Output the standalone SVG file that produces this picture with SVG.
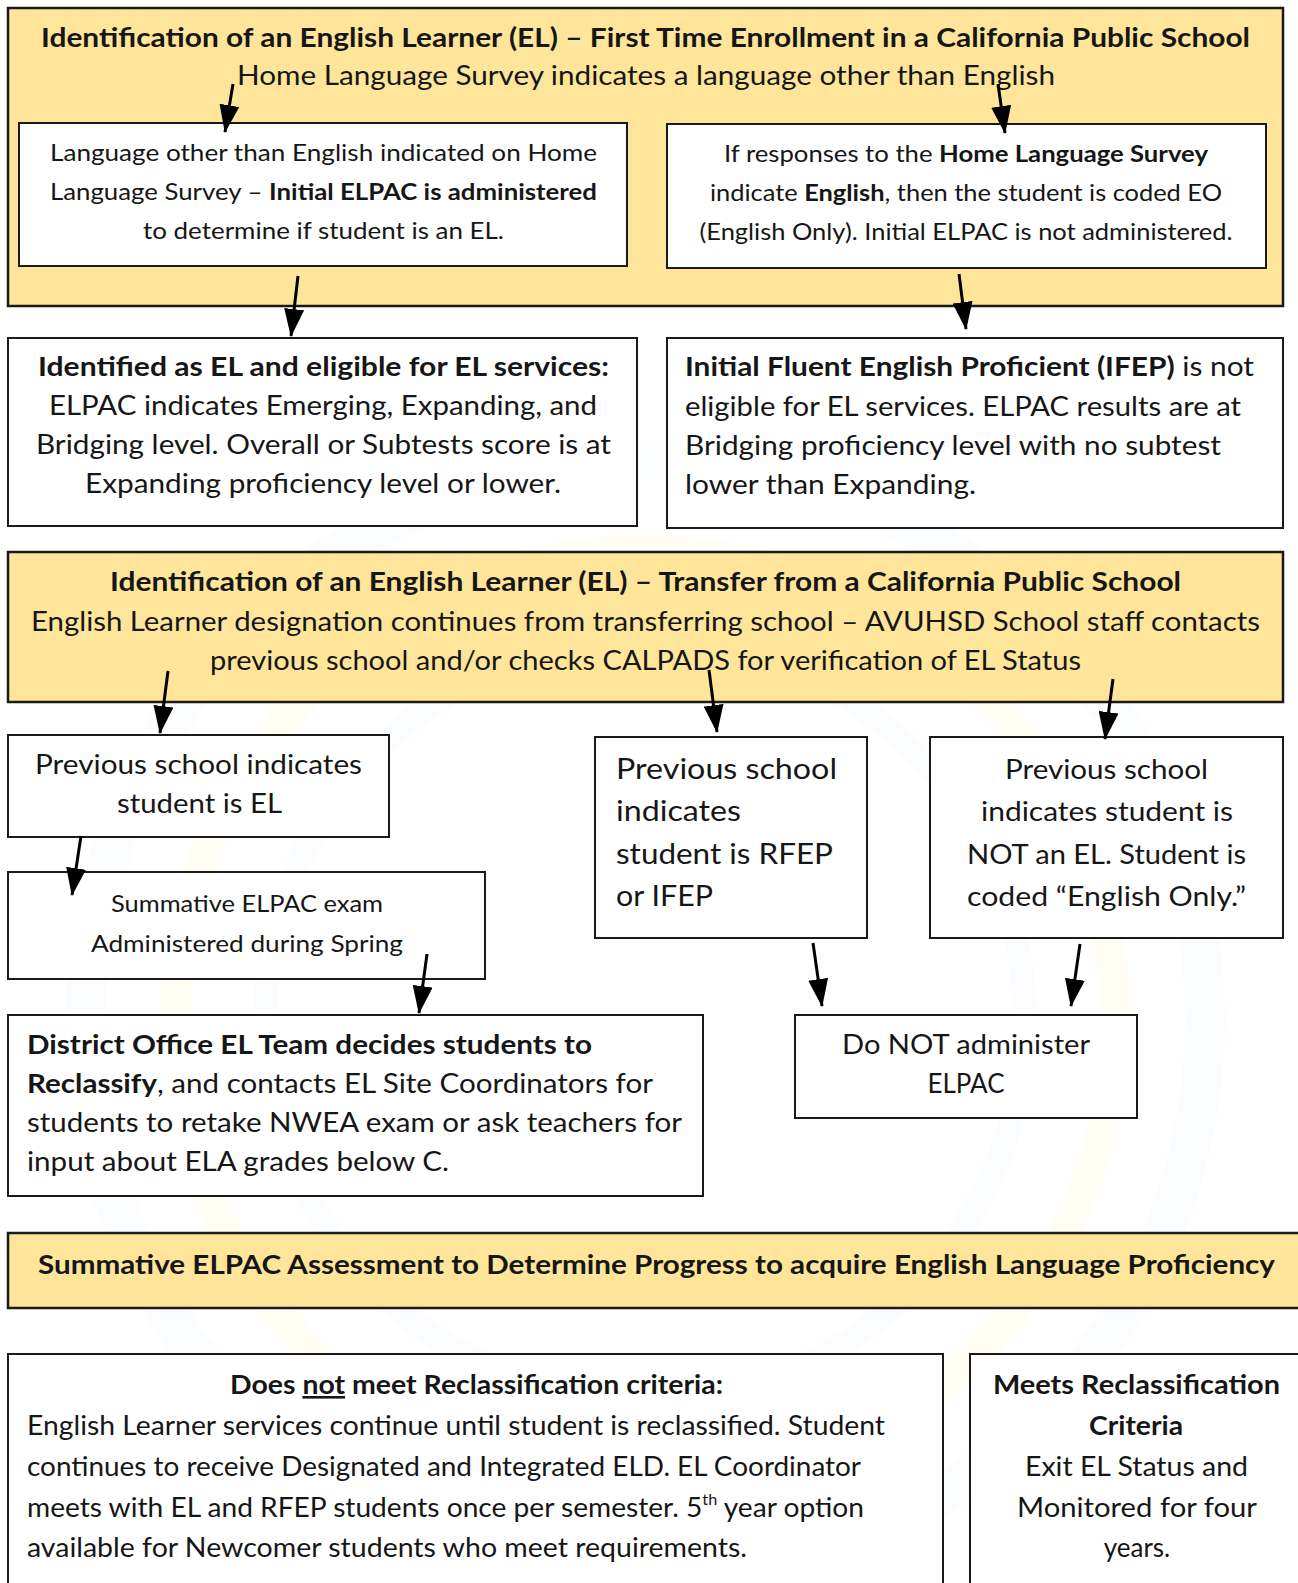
<svg xmlns="http://www.w3.org/2000/svg" width="1298" height="1583" viewBox="0 0 1298 1583">
<style>
.box{fill:#ffffff;stroke:#1a1a1a;stroke-width:2}
.ybox{fill:#ffe599;stroke:#1a1a1a;stroke-width:2.5}
text{font-family:Lato,"Open Sans","Liberation Sans",sans-serif;fill:#161616}
.b{font-weight:bold}
.c{text-anchor:middle}
.conn line{stroke:#000;stroke-width:3;marker-end:url(#ah)}
.wm{fill:none}
</style>
<defs>
<marker id="ah" viewBox="0 0 28 20" refX="27" refY="10" markerWidth="28" markerHeight="20" markerUnits="userSpaceOnUse" orient="auto">
<path d="M0,0 L28,10 L0,20 z" fill="#000"/>
</marker>
</defs>
<rect width="1298" height="1583" fill="#ffffff"/>

<g id="watermark">
<circle class="wm" cx="645" cy="1020" r="560" stroke="#fbfcfe" stroke-width="40"/>
<circle class="wm" cx="645" cy="1020" r="470" stroke="#fffdf4" stroke-width="30"/>
<circle class="wm" cx="645" cy="1020" r="380" stroke="#fbfcfe" stroke-width="24"/>
</g>

<g id="enroll-header">
<rect class="ybox" x="8" y="8" width="1275" height="298"/>
<text class="b c" x="645.5" y="47" font-size="27" textLength="1209" lengthAdjust="spacingAndGlyphs">Identification of an English Learner (EL) – First Time Enrollment in a California Public School</text>
<text class="c" x="646" y="85" font-size="26" textLength="818" lengthAdjust="spacingAndGlyphs">Home Language Survey indicates a language other than English</text>
</g>

<g id="other-language">
<rect class="box" x="19" y="123" width="608" height="143"/>
<text class="c" x="323.5" y="161" font-size="23" textLength="547" lengthAdjust="spacingAndGlyphs">Language other than English indicated on Home</text>
<text class="c" x="323.5" y="200" font-size="23" textLength="547" lengthAdjust="spacingAndGlyphs">Language Survey – <tspan class="b">Initial ELPAC is administered</tspan></text>
<text class="c" x="323.5" y="239" font-size="23" textLength="361" lengthAdjust="spacingAndGlyphs">to determine if student is an EL.</text>
</g>

<g id="english-only">
<rect class="box" x="667" y="124" width="599" height="144"/>
<text class="c" x="966" y="162" font-size="23" textLength="484" lengthAdjust="spacingAndGlyphs">If responses to the <tspan class="b">Home Language Survey</tspan></text>
<text class="c" x="966" y="201" font-size="23" textLength="512" lengthAdjust="spacingAndGlyphs">indicate <tspan class="b">English</tspan>, then the student is coded EO</text>
<text class="c" x="966" y="240" font-size="23" textLength="533" lengthAdjust="spacingAndGlyphs">(English Only). Initial ELPAC is not administered.</text>
</g>

<g id="identified-el">
<rect class="box" x="8" y="338" width="629" height="188"/>
<text class="b c" x="323.5" y="376" font-size="26" textLength="571" lengthAdjust="spacingAndGlyphs">Identified as EL and eligible for EL services:</text>
<text class="c" x="323" y="415" font-size="26" textLength="548" lengthAdjust="spacingAndGlyphs">ELPAC indicates Emerging, Expanding, and</text>
<text class="c" x="323.5" y="454" font-size="26" textLength="575" lengthAdjust="spacingAndGlyphs">Bridging level. Overall or Subtests score is at</text>
<text class="c" x="323" y="493" font-size="26" textLength="476" lengthAdjust="spacingAndGlyphs">Expanding proficiency level or lower.</text>
</g>

<g id="ifep">
<rect class="box" x="667" y="338" width="616" height="190"/>
<text x="685" y="376" font-size="26" textLength="569" lengthAdjust="spacingAndGlyphs"><tspan class="b">Initial Fluent English Proficient (IFEP)</tspan> is not</text>
<text x="685" y="416" font-size="26" textLength="556" lengthAdjust="spacingAndGlyphs">eligible for EL services. ELPAC results are at</text>
<text x="685" y="455" font-size="26" textLength="536" lengthAdjust="spacingAndGlyphs">Bridging proficiency level with no subtest</text>
<text x="685" y="494" font-size="26" textLength="291" lengthAdjust="spacingAndGlyphs">lower than Expanding.</text>
</g>

<g id="transfer-header">
<rect class="ybox" x="8" y="552" width="1275" height="150"/>
<text class="b c" x="645.5" y="591" font-size="26" textLength="1071" lengthAdjust="spacingAndGlyphs">Identification of an English Learner (EL) – Transfer from a California Public School</text>
<text class="c" x="645.5" y="631" font-size="26" textLength="1229" lengthAdjust="spacingAndGlyphs">English Learner designation continues from transferring school – AVUHSD School staff contacts</text>
<text class="c" x="645.5" y="670" font-size="26" textLength="871" lengthAdjust="spacingAndGlyphs">previous school and/or checks CALPADS for verification of EL Status</text>
</g>

<g id="prev-el">
<rect class="box" x="8" y="735" width="381" height="102"/>
<text class="c" x="198.5" y="774" font-size="26" textLength="327" lengthAdjust="spacingAndGlyphs">Previous school indicates</text>
<text class="c" x="199.5" y="813" font-size="26" textLength="165" lengthAdjust="spacingAndGlyphs">student is EL</text>
</g>

<g id="prev-rfep">
<rect class="box" x="595" y="737" width="272" height="201"/>
<text x="616" y="779" font-size="28" textLength="221" lengthAdjust="spacingAndGlyphs">Previous school</text>
<text x="616" y="821" font-size="28" textLength="125" lengthAdjust="spacingAndGlyphs">indicates</text>
<text x="616" y="864" font-size="28" textLength="217" lengthAdjust="spacingAndGlyphs">student is RFEP</text>
<text x="616" y="906" font-size="28" textLength="97" lengthAdjust="spacingAndGlyphs">or IFEP</text>
</g>

<g id="prev-not-el">
<rect class="box" x="930" y="737" width="353" height="201"/>
<text class="c" x="1106.5" y="779" font-size="27" textLength="203" lengthAdjust="spacingAndGlyphs">Previous school</text>
<text class="c" x="1107" y="821" font-size="27" textLength="252" lengthAdjust="spacingAndGlyphs">indicates student is</text>
<text class="c" x="1106.5" y="864" font-size="27" textLength="279" lengthAdjust="spacingAndGlyphs">NOT an EL. Student is</text>
<text class="c" x="1106.5" y="906" font-size="27" textLength="279" lengthAdjust="spacingAndGlyphs">coded “English Only.”</text>
</g>

<g id="summative-spring">
<rect class="box" x="8" y="872" width="477" height="107"/>
<text class="c" x="247" y="912" font-size="24" textLength="272" lengthAdjust="spacingAndGlyphs">Summative ELPAC exam</text>
<text class="c" x="247" y="952" font-size="24" textLength="312" lengthAdjust="spacingAndGlyphs">Administered during Spring</text>
</g>

<g id="district-office">
<rect class="box" x="8" y="1015" width="695" height="181"/>
<text class="b" x="27" y="1054" font-size="26" textLength="565" lengthAdjust="spacingAndGlyphs">District Office EL Team decides students to</text>
<text x="27" y="1093" font-size="26" textLength="626" lengthAdjust="spacingAndGlyphs"><tspan class="b">Reclassify</tspan>, and contacts EL Site Coordinators for</text>
<text x="27" y="1132" font-size="26" textLength="655" lengthAdjust="spacingAndGlyphs">students to retake NWEA exam or ask teachers for</text>
<text x="27" y="1171" font-size="26" textLength="422" lengthAdjust="spacingAndGlyphs">input about ELA grades below C.</text>
</g>

<g id="do-not-administer">
<rect class="box" x="795" y="1015" width="342" height="103"/>
<text class="c" x="966" y="1054" font-size="27" textLength="248" lengthAdjust="spacingAndGlyphs">Do NOT administer</text>
<text class="c" x="966" y="1093" font-size="27" textLength="77" lengthAdjust="spacingAndGlyphs">ELPAC</text>
</g>

<g id="summative-header">
<rect class="ybox" x="8" y="1233" width="1300" height="75"/>
<text class="b c" x="656.5" y="1274" font-size="27" textLength="1237" lengthAdjust="spacingAndGlyphs">Summative ELPAC Assessment to Determine Progress to acquire English Language Proficiency</text>
</g>

<g id="not-meet">
<rect class="box" x="8" y="1354" width="935" height="250"/>
<text class="b c" x="476.5" y="1394" font-size="26" textLength="493" lengthAdjust="spacingAndGlyphs">Does <tspan text-decoration="underline">not</tspan> meet Reclassification criteria:</text>
<text x="27" y="1435" font-size="26" textLength="858" lengthAdjust="spacingAndGlyphs">English Learner services continue until student is reclassified. Student</text>
<text x="27" y="1476" font-size="26" textLength="834" lengthAdjust="spacingAndGlyphs">continues to receive Designated and Integrated ELD. EL Coordinator</text>
<text x="27" y="1517" font-size="26" textLength="837" lengthAdjust="spacingAndGlyphs">meets with EL and RFEP students once per semester. 5<tspan font-size="15" dy="-12">th</tspan><tspan dy="12"> year option</tspan></text>
<text x="27" y="1557" font-size="26" textLength="720" lengthAdjust="spacingAndGlyphs">available for Newcomer students who meet requirements.</text>
</g>

<g id="meets">
<rect class="box" x="970" y="1354" width="340" height="250"/>
<text class="b c" x="1136.5" y="1394" font-size="26" textLength="287" lengthAdjust="spacingAndGlyphs">Meets Reclassification</text>
<text class="b c" x="1136" y="1435" font-size="26" textLength="94" lengthAdjust="spacingAndGlyphs">Criteria</text>
<text class="c" x="1136.5" y="1476" font-size="26" textLength="223" lengthAdjust="spacingAndGlyphs">Exit EL Status and</text>
<text class="c" x="1137" y="1517" font-size="26" textLength="240" lengthAdjust="spacingAndGlyphs">Monitored for four</text>
<text class="c" x="1137" y="1557" font-size="26">years.</text>
</g>

<g id="connectors" class="conn">
<line x1="233" y1="84" x2="225" y2="132"/>
<line x1="998" y1="84" x2="1005" y2="133"/>
<line x1="298" y1="276" x2="291" y2="336"/>
<line x1="959" y1="274" x2="966" y2="329"/>
<line x1="168" y1="671" x2="160" y2="733"/>
<line x1="709" y1="670" x2="717" y2="732"/>
<line x1="1113" y1="679" x2="1105" y2="739"/>
<line x1="81" y1="836" x2="72" y2="895"/>
<line x1="427" y1="954" x2="419" y2="1013"/>
<line x1="813" y1="943" x2="822" y2="1006"/>
<line x1="1080" y1="944" x2="1071" y2="1006"/>
</g>
</svg>
